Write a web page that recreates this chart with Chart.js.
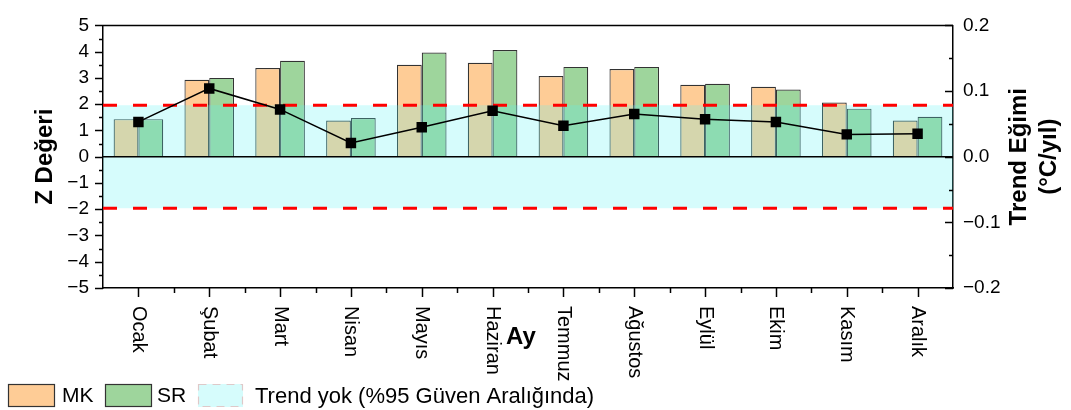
<!DOCTYPE html>
<html>
<head>
<meta charset="utf-8">
<script src="https://cdn.jsdelivr.net/npm/chart.js@4/dist/chart.umd.min.js"></script>
<style>
  html, body { margin: 0; padding: 0; background: #fff; }
  #wrap { width: 1071px; height: 410px; position: relative; }
</style>
</head>
<body>
<div id="wrap"><canvas id="chart"></canvas></div>
<script>
const months = ['Ocak', 'Şubat', 'Mart', 'Nisan', 'Mayıs', 'Haziran', 'Temmuz', 'Ağustos', 'Eylül', 'Ekim', 'Kasım', 'Aralık'];
const mkValues = [1.43, 2.93, 3.38, 1.38, 3.50, 3.58, 3.07, 3.34, 2.74, 2.66, 2.06, 1.38];
const srValues = [1.43, 3.00, 3.65, 1.47, 3.97, 4.06, 3.42, 3.42, 2.78, 2.56, 1.83, 1.52];
const trendSlopes = [0.053, 0.104, 0.072, 0.021, 0.045, 0.070, 0.047, 0.065, 0.057, 0.053, 0.034, 0.035];
const zCritical = 1.96;
const legendLabels = ['MK', 'SR', 'Trend yok (%95 Güven Aralığında)'];

const FONT = '"Liberation Sans", Arial, sans-serif';
const MK_COLOR = '#fecc96';
const SR_COLOR = '#9ed59c';
const BAND_COLOR = 'rgba(90, 245, 245, 0.25)';

const minus = (s) => String(s).replace('-', '\u2212');

// band, reference lines, ticks and custom labels
const decorPlugin = {
  id: 'decor',
  beforeDatasetDraw(chart, args) {
    if (args.index !== 2) return;
    const { ctx, chartArea } = chart;
    const y = chart.scales.y;
    const top = y.getPixelForValue(zCritical);
    const bottom = y.getPixelForValue(-zCritical);
    ctx.save();
    ctx.fillStyle = BAND_COLOR;
    ctx.fillRect(chartArea.left, top, chartArea.right - chartArea.left, bottom - top);

    ctx.strokeStyle = '#ff0000';
    ctx.lineWidth = 3;
    ctx.setLineDash([14, 16]);
    [top, bottom].forEach((py) => {
      ctx.beginPath();
      ctx.moveTo(chartArea.left, py);
      ctx.lineTo(chartArea.right, py);
      ctx.stroke();
    });

    ctx.setLineDash([]);
    ctx.strokeStyle = '#000';
    ctx.lineWidth = 1.5;
    const zero = y.getPixelForValue(0);
    ctx.beginPath();
    ctx.moveTo(chartArea.left, zero);
    ctx.lineTo(chartArea.right, zero);
    ctx.stroke();
    ctx.restore();
  },
  afterDraw(chart) {
    const { ctx, chartArea } = chart;
    const x = chart.scales.x;
    const y = chart.scales.y;
    const y1 = chart.scales.y1;
    ctx.save();
    ctx.strokeStyle = '#000';
    ctx.lineWidth = 1.5;

    // top frame
    ctx.beginPath();
    ctx.moveTo(chartArea.left, chartArea.top);
    ctx.lineTo(chartArea.right, chartArea.top);
    ctx.stroke();

    // left ticks (outward)
    for (let v = -5; v <= 5.001; v += 0.5) {
      const py = Math.round(y.getPixelForValue(v)) + 0.5;
      const len = Math.abs(v % 1) < 0.01 ? 8 : 4;
      ctx.beginPath();
      ctx.moveTo(chartArea.left, py);
      ctx.lineTo(chartArea.left - len, py);
      ctx.stroke();
    }
    // right ticks (inward)
    for (let v = -0.2; v <= 0.2001; v += 0.05) {
      const py = Math.round(y1.getPixelForValue(v)) + 0.5;
      const major = Math.abs(Math.round(v * 100) % 10) === 0;
      ctx.beginPath();
      ctx.moveTo(chartArea.right, py);
      ctx.lineTo(chartArea.right - (major ? 8 : 4), py);
      ctx.stroke();
    }
    // bottom ticks
    const step = (chartArea.right - chartArea.left) / months.length;
    months.forEach((m, i) => {
      const px = Math.round(x.getPixelForValue(i)) + 0.5;
      ctx.beginPath();
      ctx.moveTo(px, chartArea.bottom);
      ctx.lineTo(px, chartArea.bottom + 9);
      ctx.stroke();
    });
    for (let i = 1; i < months.length; i++) {
      const px = Math.round(x.getPixelForValue(i) - step / 2) + 0.5;
      ctx.beginPath();
      ctx.moveTo(px, chartArea.bottom);
      ctx.lineTo(px, chartArea.bottom + 5);
      ctx.stroke();
    }

    // month labels, read top to bottom
    ctx.fillStyle = '#000';
    ctx.font = '20px ' + FONT;
    ctx.textAlign = 'left';
    ctx.textBaseline = 'middle';
    months.forEach((m, i) => {
      const px = x.getPixelForValue(i);
      ctx.save();
      ctx.translate(px, chartArea.bottom + 18);
      ctx.rotate(Math.PI / 2);
      ctx.fillText(m, 0, 0);
      ctx.restore();
    });

    // axis titles
    ctx.font = 'bold 24px ' + FONT;
    ctx.textAlign = 'center';
    ctx.fillText('Ay', 521, 337);
    const midY = (chartArea.top + chartArea.bottom) / 2;
    [['Z Değeri', 45], ['Trend Eğimi', 1019], ['(°C/yıl)', 1049]].forEach(([t, px]) => {
      ctx.save();
      ctx.translate(px, midY);
      ctx.rotate(-Math.PI / 2);
      ctx.fillText(t, 0, 0);
      ctx.restore();
    });

    // legend
    const ly = 384, lh = 23;
    ctx.font = '21px ' + FONT;
    ctx.textAlign = 'left';
    ctx.lineWidth = 1.2;
    ctx.fillStyle = MK_COLOR;
    ctx.fillRect(8, ly, 47, lh);
    ctx.strokeStyle = '#333';
    ctx.strokeRect(8.5, ly + 0.5, 46, lh - 1);
    ctx.fillStyle = SR_COLOR;
    ctx.fillRect(105, ly, 47, lh);
    ctx.strokeRect(105.5, ly + 0.5, 46, lh - 1);
    ctx.fillStyle = BAND_COLOR;
    ctx.fillRect(198, ly, 45, lh);
    ctx.strokeStyle = 'rgba(255, 0, 0, 0.2)';
    ctx.setLineDash([8, 6]);
    ctx.strokeRect(198.5, ly + 0.5, 44, lh - 1);
    ctx.setLineDash([]);
    ctx.fillStyle = '#000';
    ctx.fillText(legendLabels[0], 62, ly + lh / 2 + 1);
    ctx.fillText(legendLabels[1], 157, ly + lh / 2 + 1);
    ctx.font = '22px ' + FONT;
    ctx.fillText(legendLabels[2], 255, ly + lh / 2 + 1);
    ctx.restore();
  }
};

const ctx = document.getElementById('chart').getContext('2d');

new Chart(ctx, {
  data: {
    labels: months,
    datasets: [
      {
        type: 'bar',
        label: legendLabels[0],
        data: mkValues,
        backgroundColor: MK_COLOR,
        borderColor: '#333',
        borderWidth: 1.2,
        barPercentage: 1,
        categoryPercentage: 0.7,
        yAxisID: 'y',
        order: 2
      },
      {
        type: 'bar',
        label: legendLabels[1],
        data: srValues,
        backgroundColor: SR_COLOR,
        borderColor: '#333',
        borderWidth: 1.2,
        barPercentage: 1,
        categoryPercentage: 0.7,
        yAxisID: 'y',
        order: 3
      },
      {
        type: 'line',
        label: 'Trend Eğimi',
        data: trendSlopes,
        borderColor: '#000',
        borderWidth: 1.5,
        pointStyle: 'rect',
        pointRadius: 7.4,
        pointBackgroundColor: '#000',
        pointBorderWidth: 0,
        yAxisID: 'y1',
        order: 1
      }
    ]
  },
  options: {
    responsive: true,
    maintainAspectRatio: false,
    animation: false,
    layout: { padding: { top: 21, right: 0, bottom: 0, left: 0 } },
    plugins: {
      legend: { display: false },
      tooltip: { enabled: false }
    },
    scales: {
      x: {
        type: 'category',
        offset: true,
        grid: { display: false, drawTicks: false },
        border: { display: true, color: '#000', width: 1.5 },
        ticks: { display: false },
        afterFit: (scale) => { scale.height = 122; }
      },
      y: {
        position: 'left',
        min: -5,
        max: 5,
        grid: { display: false, drawTicks: false },
        border: { display: true, color: '#000', width: 1.5 },
        ticks: {
          stepSize: 1,
          padding: 14,
          color: '#000',
          font: { family: FONT, size: 19 },
          callback: (v) => minus(v)
        },
        afterFit: (scale) => { scale.width = 103; }
      },
      y1: {
        position: 'right',
        min: -0.2,
        max: 0.2,
        grid: { display: false, drawTicks: false },
        border: { display: true, color: '#000', width: 1.5 },
        ticks: {
          stepSize: 0.1,
          padding: 10,
          color: '#000',
          font: { family: FONT, size: 19 },
          callback: (v) => minus(Number(v).toFixed(1))
        },
        afterFit: (scale) => { scale.width = 118; }
      }
    }
  },
  plugins: [decorPlugin]
});
</script>
</body>
</html>
